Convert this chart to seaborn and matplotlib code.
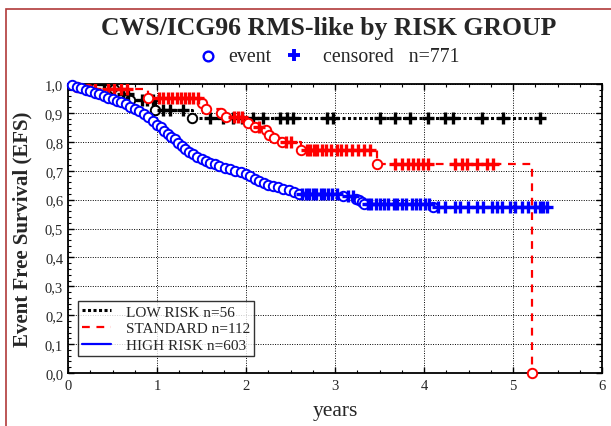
import numpy as np
import pandas as pd
import matplotlib
matplotlib.use("Agg")
import matplotlib.pyplot as plt
from matplotlib.lines import Line2D
from matplotlib.patches import Rectangle
from matplotlib.ticker import MultipleLocator, FuncFormatter
import seaborn as sns

# ---------------- data ----------------
groups = ["LOW RISK n=56", "STANDARD n=112", "HIGH RISK n=603"]

low_event_t = [0.52, 0.57, 0.70, 0.98, 1.39]
low_event_s = [0.982, 0.964, 0.946, 0.910, 0.882]
low_censor_t = [0.40, 0.62, 0.67, 0.83, 0.89, 0.95, 1.07, 1.15, 1.29,
                1.60, 1.74, 1.85, 1.96, 2.08, 2.19, 2.38, 2.46, 2.53, 2.91,
                2.98, 3.51, 3.67, 3.84, 4.04, 4.24, 4.33, 4.65, 4.89, 5.30]
low_end = 5.30

std_event_t = [0.10, 0.22, 0.90, 1.50, 1.55, 1.72, 1.78, 2.02, 2.10, 2.22,
               2.26, 2.32, 2.40, 2.62, 3.47, 5.21]
std_event_s = [0.991, 0.982, 0.953, 0.935, 0.915, 0.900, 0.885, 0.865,
               0.852, 0.840, 0.825, 0.812, 0.798, 0.770, 0.722, 0.0]
std_censor_t = [0.30, 0.45, 0.52, 0.60, 0.66, 1.02, 1.07, 1.12, 1.17, 1.22,
                1.27, 1.31, 1.36, 1.41, 1.46, 1.86, 1.91, 1.96, 2.15, 2.45,
                2.50, 2.68, 2.72, 2.76, 2.80, 2.85, 2.90, 2.95, 3.02, 3.07,
                3.12, 3.19, 3.26, 3.33, 3.39, 3.67, 3.75, 3.82, 3.88, 3.93,
                3.99, 4.04, 4.35, 4.43, 4.48, 4.60, 4.71, 4.78]
std_end = 5.21

high_event_t = [0.05, 0.10, 0.15, 0.20, 0.25, 0.30, 0.35, 0.40, 0.45, 0.50,
                0.55, 0.60, 0.65, 0.70, 0.75, 0.80, 0.85, 0.90, 0.95, 1.00,
                1.04, 1.08, 1.12, 1.16, 1.20, 1.24, 1.28, 1.32, 1.36, 1.40,
                1.45, 1.50, 1.55, 1.60, 1.65, 1.70, 1.76, 1.82, 1.88, 1.94,
                2.00, 2.05, 2.10, 2.15, 2.20, 2.25, 2.30, 2.36, 2.42, 2.48,
                2.54, 2.60, 3.09, 3.24, 3.27, 3.30, 3.33, 4.10]
high_event_s = [0.995, 0.990, 0.985, 0.980, 0.975, 0.970, 0.965, 0.960,
                0.953, 0.947, 0.942, 0.936, 0.930, 0.922, 0.915, 0.905,
                0.895, 0.885, 0.872, 0.858, 0.850, 0.838, 0.828, 0.818,
                0.808, 0.796, 0.785, 0.775, 0.765, 0.757, 0.748, 0.740,
                0.733, 0.727, 0.722, 0.717, 0.711, 0.706, 0.700, 0.695,
                0.688, 0.680, 0.672, 0.665, 0.658, 0.652, 0.647, 0.642,
                0.637, 0.632, 0.627, 0.621, 0.612, 0.603, 0.597, 0.591,
                0.586, 0.574]
high_censor_t = [2.63, 2.67, 2.71, 2.75, 2.79, 2.84, 2.88, 2.92, 2.97, 3.02,
                 3.15, 3.20, 3.37, 3.41, 3.46, 3.51, 3.55, 3.60, 3.66, 3.70,
                 3.75, 3.80, 3.86, 3.91, 3.96, 4.01, 4.06, 4.16, 4.24, 4.35,
                 4.40, 4.49, 4.60, 4.66, 4.76, 4.82, 4.88, 4.97, 5.02, 5.10,
                 5.17, 5.25, 5.30, 5.34, 5.38]
high_end = 5.38

colors = ["black", "#ff0000", "#0000ff"]
styles = [(0, (1, 0.8)), (0, (3.5, 3)), "-"]
widths = [2.2, 1.6, 1.6]

# ---------------- figure ----------------
sns.set_theme(style="ticks")
plt.rcParams["font.family"] = ["Liberation Serif", "DejaVu Serif"]

fig = plt.figure(figsize=(6.11, 4.27), dpi=100)
ax = fig.add_axes([68 / 611, 1 - 374 / 427, 534 / 611, 289 / 427])

def surv_at(t, ev_t, ev_s):
    s = 1.0
    for et, es in zip(ev_t, ev_s):
        if et <= t:
            s = es
    return s

sets = [(low_event_t, low_event_s, low_censor_t, low_end),
        (std_event_t, std_event_s, std_censor_t, std_end),
        (high_event_t, high_event_s, high_censor_t, high_end)]

for i, (et, es, ct, end) in enumerate(sets):
    xs = [0.0] + list(et)
    ys = [1.0] + list(es)
    if end > xs[-1]:
        xs.append(end)
        ys.append(ys[-1])
    line_df = pd.DataFrame({"t": xs, "s": ys})
    sns.lineplot(data=line_df, x="t", y="s", ax=ax, color=colors[i],
                 drawstyle="steps-post", estimator=None, sort=False,
                 linewidth=widths[i], linestyle=styles[i], zorder=2 + i)
    ev_df = pd.DataFrame({"t": et, "s": es})
    sns.scatterplot(data=ev_df, x="t", y="s", ax=ax, marker="o", s=46,
                    facecolor="white", edgecolor=colors[i], linewidth=1.4,
                    zorder=3 + i, clip_on=False)
    c_df = pd.DataFrame({"t": ct, "s": [surv_at(t, et, es) for t in ct]})
    sns.scatterplot(data=c_df, x="t", y="s", ax=ax, marker="+", s=72,
                    color=colors[i], linewidth=2.4, zorder=3 + i)

ax.set_xlim(0, 6)
ax.set_ylim(0, 1.0)
ax.xaxis.set_major_locator(MultipleLocator(1))
ax.xaxis.set_minor_locator(MultipleLocator(0.25))
ax.yaxis.set_major_locator(MultipleLocator(0.1))
ax.yaxis.set_minor_locator(MultipleLocator(0.02))
ax.yaxis.set_major_formatter(FuncFormatter(lambda v, p: f"{v:.1f}".replace(".", ",")))
ax.xaxis.set_major_formatter(FuncFormatter(lambda v, p: f"{v:.0f}"))
ax.tick_params(which="both", direction="in", top=True, right=True,
               color="black", labelsize=10.5)
ax.tick_params(which="major", length=4, width=1)
ax.tick_params(which="minor", length=2.5, width=0.8)
ax.tick_params(axis="x", pad=4)
for sp in ax.spines.values():
    sp.set_visible(True)
    sp.set_color("black")
    sp.set_linewidth(1.3)
ax.grid(True, which="major", color="black", linestyle=(0, (1, 1.5)), linewidth=0.7)
ax.set_axisbelow(True)

ax.set_xlabel("years", fontsize=15.5, labelpad=7)
ax.set_ylabel("Event Free Survival (EFS)", fontsize=15, fontweight="bold", labelpad=9)

handles = [Line2D([], [], color=colors[i], linestyle=styles[i], linewidth=widths[i])
           for i in range(3)]
leg = ax.legend(handles, groups, loc="lower left",
                bbox_to_anchor=(10 / 534, 17 / 289), fontsize=11,
                frameon=True, fancybox=False, edgecolor="black",
                handlelength=1.9, handletextpad=1.0, labelspacing=0.2,
                borderpad=0.25, borderaxespad=0)
leg.get_frame().set_linewidth(1.0)
leg.set_zorder(10)

fig.text(329 / 611, 1 - 28 / 427, "CWS/ICG96 RMS-like by RISK GROUP",
         ha="center", va="center", fontsize=18.5, fontweight="bold")
fig.text(228 / 611, 1 - 57 / 427, "event", ha="left", va="center", fontsize=14.3)
fig.text(323 / 611, 1 - 57 / 427, "censored   n=771", ha="left", va="center", fontsize=14.3)
fig.add_artist(Line2D([208 / 611], [1 - 57 / 427], marker="o", markersize=7,
                      markerfacecolor="white", markeredgecolor="#0000ff",
                      markeredgewidth=1.7, transform=fig.transFigure))
fig.add_artist(Line2D([294 / 611], [1 - 56 / 427], marker="+", markersize=9,
                      color="#0000ff", markeredgewidth=2.8, transform=fig.transFigure))

fig.add_artist(Rectangle((6 / 611, -0.1), 1.2, 1.1 - 10 / 427, fill=False,
                         edgecolor="#b03a3a", linewidth=1.2,
                         transform=fig.transFigure))

fig.savefig("out.png", dpi=100)
